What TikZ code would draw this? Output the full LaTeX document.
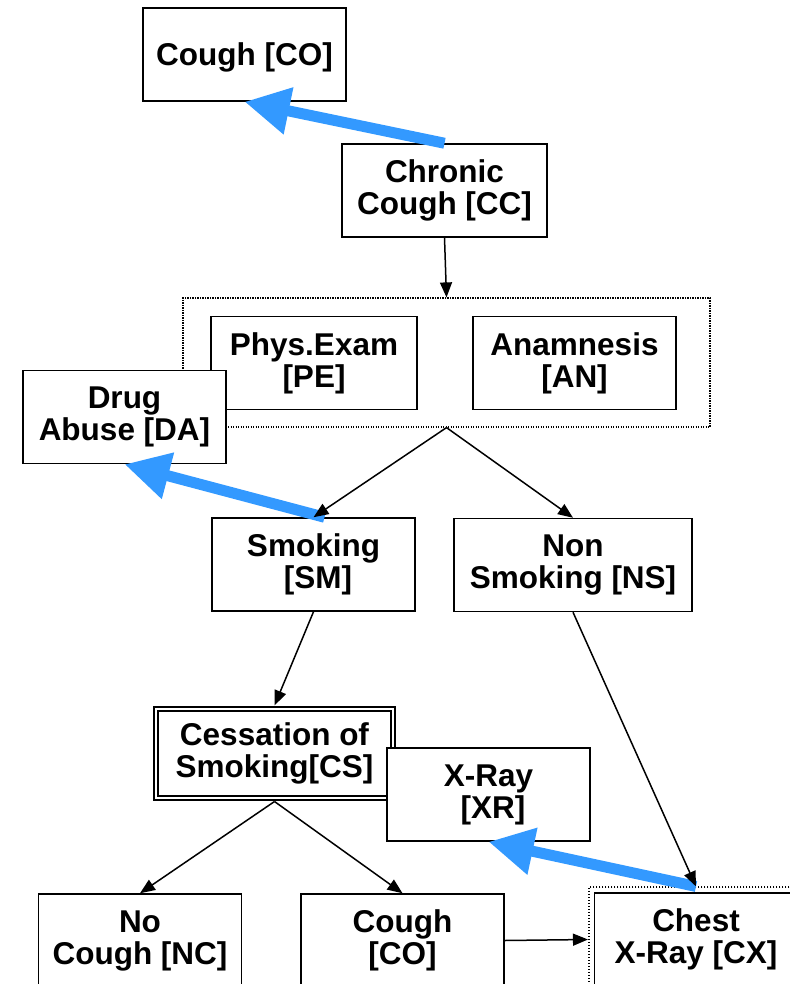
\documentclass[tikz,border=0pt]{standalone}
\usepackage{fontspec}
\setmainfont{Liberation Sans}
\usetikzlibrary{arrows.meta, fit}
\definecolor{linkblue}{RGB}{51,153,255}

\begin{document}
\begin{tikzpicture}[x=1pt,y=1pt,yscale=-1,xscale=1,
  box/.style={draw, line width=1.5, fill=white, minimum width=203, minimum height=93,
    inner sep=0, align=center, font=\fontsize{31.5}{32}\selectfont\bfseries,
    execute at begin node={\rule{0pt}{28pt}}},
  doublebox/.style={box, double, double distance=2.5, outer sep=3.5,
    minimum width=237, minimum height=89},
  groupbox/.style={draw, line width=1.2, dash pattern=on 1.2pt off 1.3pt},
  dotbox/.style={draw, line width=1.6, dash pattern=on 1.6pt off 1.4pt, inner sep=5},
  flow/.style={line width=1.5, -{Triangle[length=15pt, width=12pt]}},
  link/.style={line width=11, color=linkblue, -{Triangle[length=45pt, width=45pt]}}
  ]
\useasboundingbox (0,0) rectangle (789,984);

%Shape: Rectangle
\node[box] (co) at (244.5,54.5) {Cough [CO]};
\node[box, minimum width=205] (cc) at (444.5,190.5) {Chronic\\Cough [CC]};

%Shape: Rectangle (group)
\node[groupbox, minimum width=527, minimum height=129] (grp) at (446.5,362.5) {};
\node[box, minimum width=206] (pe) at (314,363) {Phys.Exam\\{}[PE]};
\node[box] (an) at (574.5,363) {Anamnesis\\{}[AN]};
\node[box] (da) at (124.5,417) {Drug\\Abuse [DA]};

\node[box] (sm) at (313.5,564.5) {Smoking\\{} [SM]};
\node[box, minimum width=238] (ns) at (573,565) {Non\\Smoking [NS]};

\node[doublebox] (cs) at (274.5,753.5) {Cessation of\\Smoking[CS]};
\node[box] (xr) at (488.5,794.5) {X-Ray\\{} [XR]};

\node[box] (nc) at (140,940.5) {No\\Cough [NC]};
\node[box] (co2) at (402.5,940.5) {Cough\\{}[CO]};
\node[box] (cx) at (696,939.5) {Chest\\X-Ray [CX]};
\node[dotbox, fit=(cx)] (cxo) {};

%Straight Lines
\draw[link] (cc.north) -- (co.south);
\draw[link] ([xshift=11pt]sm.north) -- (da.south);
\draw[link] (cxo.north) -- (xr.south);

\draw[flow] (cc.south) -- (grp.north);
\draw[flow] (grp.south) -- (sm.north);
\draw[flow] (grp.south) -- (ns.north);
\draw[flow] (sm.south) -- (cs.north);
\draw[flow] (cs.south) -- (nc.north);
\draw[flow] (cs.south) -- (co2.north);
\draw[flow] (ns.south) -- (cxo.north);
\draw[flow] (co2.east) -- (cxo.west);

\end{tikzpicture}
\end{document}
